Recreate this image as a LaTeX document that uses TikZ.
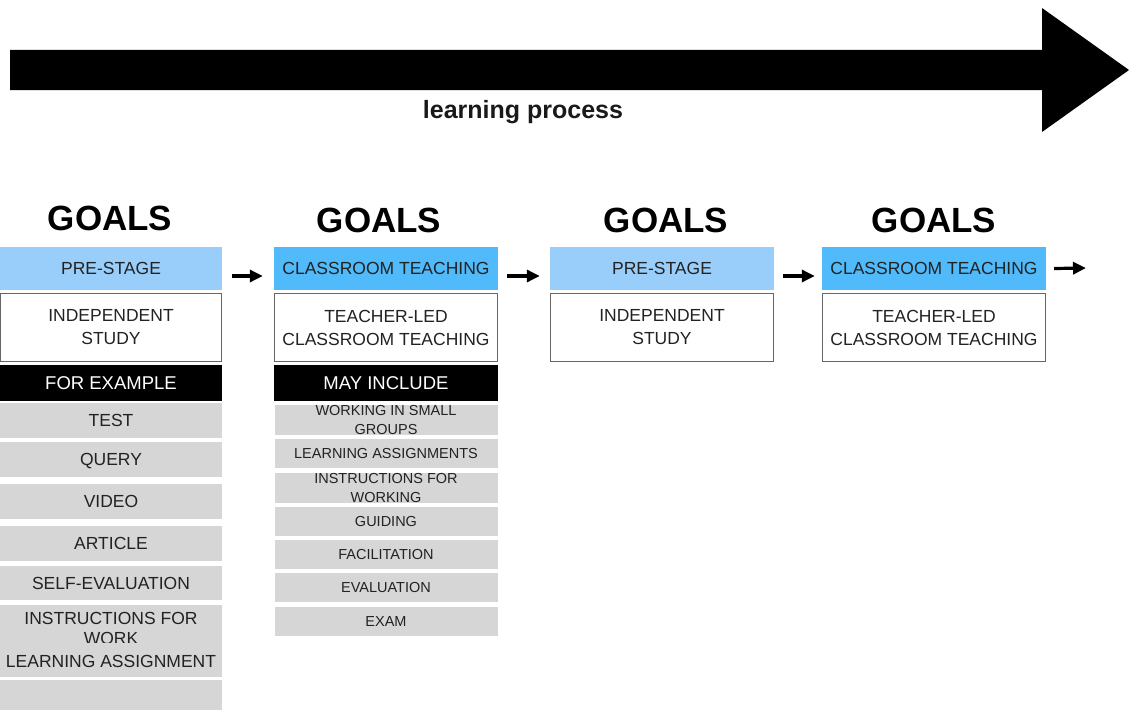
\documentclass[tikz,border=0pt]{standalone}
\usepackage{fontspec}
\setmainfont{Liberation Sans}
\usetikzlibrary{arrows.meta}
\definecolor{lightblue}{RGB}{153,206,250}
\definecolor{midblue}{RGB}{80,186,250}
\definecolor{grayfill}{RGB}{214,214,214}
\definecolor{txt}{RGB}{34,34,34}
\newcommand{\fsz}[2]{\fontsize{#1}{#2}\selectfont}
\tikzset{
  goals/.style={font=\fsz{35}{40}\bfseries, text=black, inner sep=0pt},
  stagebox/.style={rectangle, inner sep=0pt, text=txt, align=center, font=\fsz{17.5}{22}},
  oneline/.style={text depth=0pt},
  prebox/.style={stagebox, oneline, fill=lightblue},
  classbox/.style={stagebox, oneline, fill=midblue},
  whitebox/.style={stagebox, fill=white, draw=black!60, line width=1.2pt, font=\fsz{17.5}{23}},
  blackbox/.style={stagebox, oneline, fill=black, text=white, font=\fsz{18.5}{22}},
  graybox/.style={stagebox, oneline, fill=grayfill, draw=white, line width=1pt, font=\fsz{17.5}{20}},
  smallgray/.style={stagebox, fill=grayfill, draw=white, line width=1pt, font=\fsz{14.5}{18.5}},
  smallarr/.style={-{Triangle[length=13pt,width=12pt]}, line width=3.2pt, black}
}
\begin{document}
\begin{tikzpicture}[x=1pt,y=-1pt]
\useasboundingbox (0,0) rectangle (1129,709);
% big process arrow
\fill[black] (10,50) -- (1042,50) -- (1042,8) -- (1129,70) -- (1042,132) -- (1042,90) -- (10,90) -- cycle;
\node[font=\fsz{25}{28}\bfseries, text=black!90, inner sep=0pt] (lp) at (523,112) {learning process};

% column 1
\node[goals] (g1) at (110,218.5) {GOALS};
\node[prebox, minimum width=222pt, minimum height=43pt] (p1) at (111,268.5) {PRE-STAGE};
\node[whitebox, minimum width=221pt, minimum height=68pt] (s1) at (111,327.5) {INDEPENDENT\\STUDY};
\node[blackbox, minimum width=222pt, minimum height=36pt] (fe) at (111,383) {FOR EXAMPLE};
\node[graybox, minimum width=223pt, minimum height=36pt] (e1) at (111,420.5) {TEST};
\node[graybox, minimum width=223pt, minimum height=36pt] (e2) at (111,459.5) {QUERY};
\node[graybox, minimum width=223pt, minimum height=36pt] (e3) at (111,501.5) {VIDEO};
\node[graybox, minimum width=223pt, minimum height=36pt] (e4) at (111,543.5) {ARTICLE};
\node[graybox, minimum width=223pt, minimum height=35pt] (e5) at (111,583) {SELF-EVALUATION};
\node[graybox, minimum width=223pt, minimum height=73pt] (e6) at (111,641) {};
\begin{scope}
\clip (0,600) rectangle (222,642);
\node[stagebox, font=\fsz{17.5}{20}, text=txt] (e6a) at (111,628.5) {INSTRUCTIONS FOR\\WORK};
\end{scope}
\node[stagebox, oneline, font=\fsz{17.5}{20}, text=txt] (e6b) at (111,661.5) {LEARNING ASSIGNMENT};
\node[graybox, minimum width=223pt, minimum height=34pt] (e7) at (111,696) {};

% column 2
\node[goals] (g2) at (379,220.5) {GOALS};
\node[classbox, minimum width=224pt, minimum height=43pt] (c2) at (386,268.5) {CLASSROOM TEACHING};
\node[whitebox, minimum width=223pt, minimum height=68pt] (t2) at (386,327.5) {TEACHER-LED\\CLASSROOM TEACHING};
\node[blackbox, minimum width=224pt, minimum height=36pt] (mi) at (386,383) {MAY INCLUDE};
\node[smallgray, minimum width=224pt, minimum height=31pt] (m1) at (386,420) {WORKING IN SMALL\\GROUPS};
\node[smallgray, oneline, minimum width=224pt, minimum height=30pt] (m2) at (386,453.5) {LEARNING ASSIGNMENTS};
\node[smallgray, minimum width=224pt, minimum height=31pt] (m3) at (386,488) {INSTRUCTIONS FOR\\WORKING};
\node[smallgray, oneline, minimum width=224pt, minimum height=30pt] (m4) at (386,521.5) {GUIDING};
\node[smallgray, oneline, minimum width=224pt, minimum height=30pt] (m5) at (386,554.5) {FACILITATION};
\node[smallgray, oneline, minimum width=224pt, minimum height=30pt] (m6) at (386,587.5) {EVALUATION};
\node[smallgray, oneline, minimum width=224pt, minimum height=30pt] (m7) at (386,621.5) {EXAM};

% column 3
\node[goals] (g3) at (666,220.5) {GOALS};
\node[prebox, minimum width=224pt, minimum height=43pt] (p3) at (662,268.5) {PRE-STAGE};
\node[whitebox, minimum width=223pt, minimum height=68pt] (s3) at (662,327.5) {INDEPENDENT\\STUDY};

% column 4
\node[goals] (g4) at (934,220.5) {GOALS};
\node[classbox, minimum width=224pt, minimum height=43pt] (c4) at (934,268.5) {CLASSROOM TEACHING};
\node[whitebox, minimum width=223pt, minimum height=68pt] (t4) at (934,327.5) {TEACHER-LED\\CLASSROOM TEACHING};

% small arrows
\draw[smallarr] ([xshift=10pt,yshift=-7.5pt]p1.east) -- ([xshift=-11pt,yshift=-7.5pt]c2.west);
\draw[smallarr] ([xshift=9pt,yshift=-7.5pt]c2.east) -- ([xshift=-10pt,yshift=-7.5pt]p3.west);
\draw[smallarr] ([xshift=9pt,yshift=-7.5pt]p3.east) -- ([xshift=-7pt,yshift=-7.5pt]c4.west);
\coordinate (endpt) at (1086,268);
\draw[smallarr] ([xshift=8pt]c4.east) -- (endpt);
\end{tikzpicture}
\end{document}
